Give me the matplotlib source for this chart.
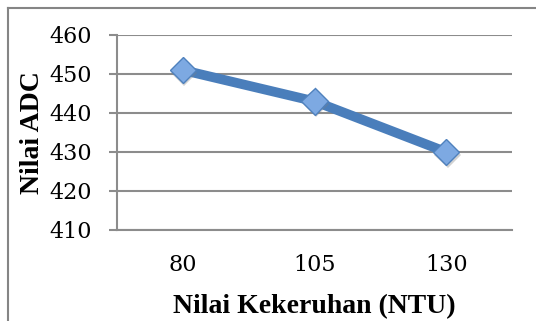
import matplotlib
import matplotlib.pyplot as plt
import matplotlib.patheffects as pe
from matplotlib.lines import Line2D

matplotlib.use('Agg')

kekeruhan = ['80', '105', '130']
nilai_adc = [451, 443, 430]
y_ticks = [410, 420, 430, 440, 450, 460]

LINE_BLUE = '#4A7EBB'
GRID_GREY = '#8C8C8C'
W, H = 536, 321

fig = plt.figure(figsize=(W / 100, H / 100), dpi=100)
ax = fig.add_axes([117 / W, 1 - 230 / H, 395 / W, 195 / H])

x = list(range(len(kekeruhan)))
ax.plot(x, nilai_adc, color=LINE_BLUE, linewidth=7, solid_capstyle='butt', zorder=3)
ax.plot(x, nilai_adc, linestyle='none', marker='D', markersize=13.5,
        markerfacecolor='#7DA9E2', markeredgecolor='#4F81BD', markeredgewidth=1.0,
        zorder=4,
        path_effects=[pe.withSimplePatchShadow(offset=(1, -2), shadow_rgbFace='#7F7F7F', alpha=0.35)])

ax.set_xlim(-0.5, len(kekeruhan) - 0.5)
ax.set_ylim(410, 460)
ax.set_xticks(x)
ax.set_xticklabels(kekeruhan)
ax.set_yticks(y_ticks)

for lbl in ax.get_xticklabels() + ax.get_yticklabels():
    lbl.set_fontfamily('DejaVu Serif')
    lbl.set_fontsize(16)

ax.yaxis.grid(True, color=GRID_GREY, linewidth=1.5)
ax.set_axisbelow(True)
for side in ('top', 'right'):
    ax.spines[side].set_visible(False)
for side in ('left', 'bottom'):
    ax.spines[side].set_color(GRID_GREY)
    ax.spines[side].set_linewidth(1.5)
ax.tick_params(axis='y', length=5.8, width=1.5, color=GRID_GREY, pad=12)
ax.tick_params(axis='x', length=0, pad=17)

label_font = {'family': 'Liberation Serif', 'weight': 'bold', 'size': 20}
ax.set_xlabel('Nilai Kekeruhan (NTU)', fontdict=label_font, labelpad=13)
ax.set_ylabel('Nilai ADC', fontdict=label_font, labelpad=3)

# outer chart frame in pixel coords: only the left and top edges fall inside the image
frame = dict(transform=None, color='#858585', linewidth=1.5, zorder=10)
fig.add_artist(Line2D([8, 8], [0, H - 8], **frame))
fig.add_artist(Line2D([8, W], [H - 8, H - 8], **frame))

fig.savefig('out.png', dpi=100)
